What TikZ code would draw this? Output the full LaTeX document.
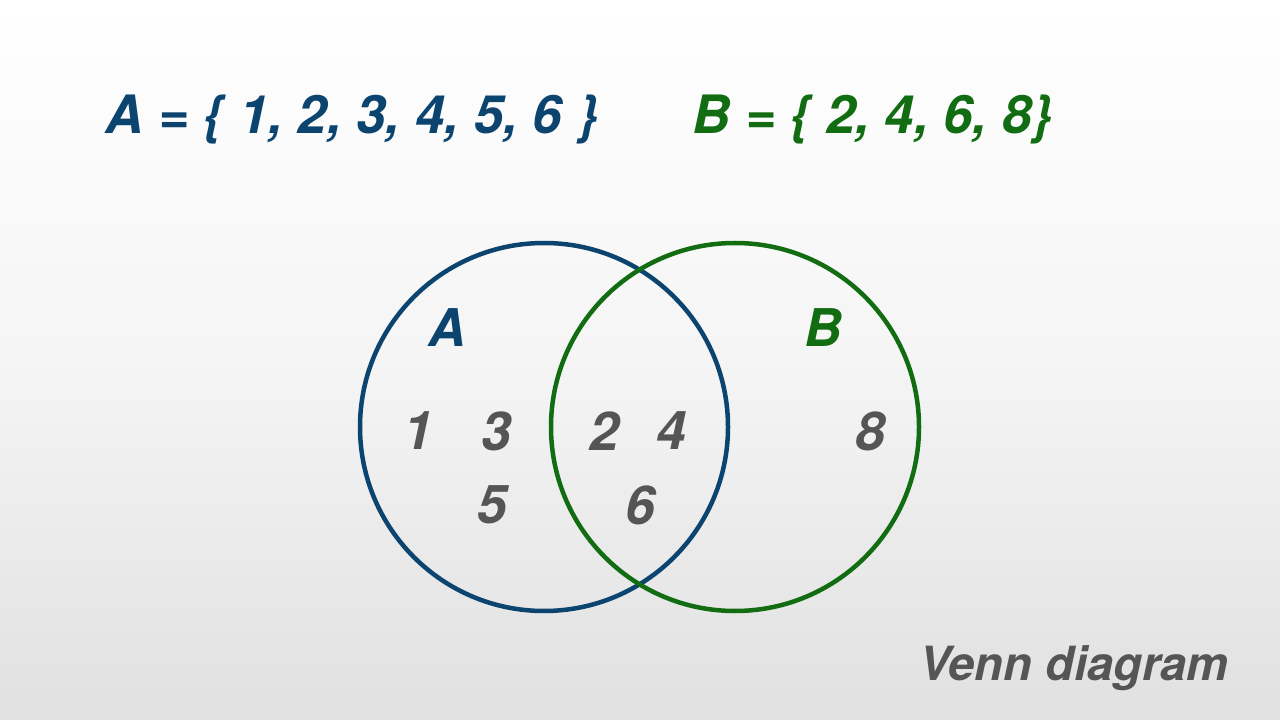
\documentclass[tikz,border=0pt]{standalone}
\usepackage{fontspec}
\setmainfont{TeX Gyre Heros}
\usepackage{xcolor}
\definecolor{vennblue}{RGB}{12,68,112}
\definecolor{venngreen}{RGB}{18,108,18}
\definecolor{venngray}{RGB}{85,85,85}
\usepackage{tikz}
\usetikzlibrary{positioning}

\tikzset{
  setlabel/.style={font=\fontsize{37.6}{40}\selectfont\bfseries\itshape, anchor=base west, inner sep=0pt},
  circlabel/.style={font=\fontsize{37}{40}\selectfont\bfseries\itshape, inner sep=0pt},
  elem/.style={font=\fontsize{38}{40}\selectfont\bfseries\itshape, venngray, inner sep=0pt},
  setcirc/.style={line width=3.2pt}
}

\begin{document}
\begin{tikzpicture}[x=0.025cm, y=-0.025cm]
  % Background
  \shade[top color=white, bottom color=gray!24, middle color=gray!8] (0,0) rectangle (1280,720);
  \useasboundingbox (0,0) rectangle (1280,720);

  % --- Set definitions ---
  \node[setlabel, vennblue] (defA) at (105,134) {A = \{ 1, 2, 3, 4, 5, 6 \}};
  \node[setlabel, venngreen] (defB) at (692,134) {B = \{ 2, 4, 6, 8\}};

  % --- Circles ---
  \draw[setcirc, vennblue] (544,427) circle (184);
  \draw[setcirc, venngreen] (735,427) circle (184);

  % Circle labels
  \node[circlabel, vennblue] (labA) at (447,328) {A};
  \node[circlabel, venngreen] (labB) at (823,328) {B};

  % Elements
  \node[elem] (e1) at (418,431) {1};
  \node[elem] (e3) at (496,431) {3};
  \node[elem] (e5) at (492,505) {5};
  \node[elem] (e2) at (604,431) {2};
  \node[elem] (e4) at (671,431) {4};
  \node[elem] (e6) at (640,505) {6};
  \node[elem] (e8) at (870,431) {8};

  % Caption
  \node[font=\fontsize{33.5}{40}\selectfont\bfseries\itshape, venngray, anchor=base, inner sep=0pt] (cap) at (1074,680) {Venn diagram};
\end{tikzpicture}
\end{document}
